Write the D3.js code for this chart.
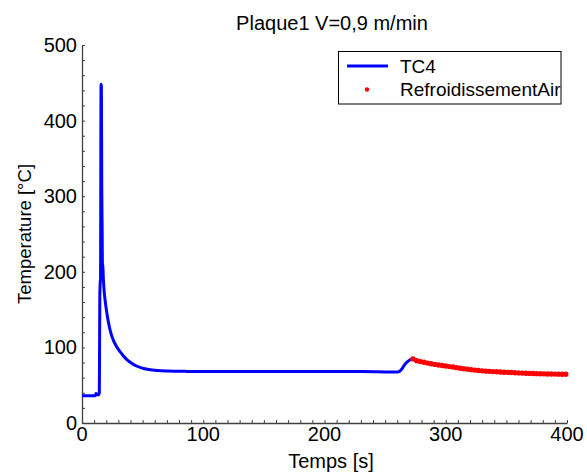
<!DOCTYPE html>
<html>
<head>
<meta charset="utf-8">
<script src="https://cdn.jsdelivr.net/npm/d3@7"></script>
<style>
  html, body { margin: 0; padding: 0; background: #fff; }
  svg { display: block; }
  text { font-family: "Liberation Sans", Arial, Helvetica, sans-serif; fill: #000; }
</style>
</head>
<body>
<svg id="chart" width="587" height="475"></svg>
<script>
// ---- Data ----
const chartTitle = "Plaque1 V=0,9 m/min";
const xLabel = "Temps [s]";
const yLabel = "Temperature [°C]";
const seriesNames = ["TC4", "RefroidissementAir"];

const xTicks = [0, 100, 200, 300, 400];
const yTicks = [0, 100, 200, 300, 400, 500];

// TC4 (blue line)
const tc4Time = [0, 5, 11, 11.5, 12.5, 13.5, 14.3, 14.7, 15.0, 15.3, 15.7, 16.0, 16.3, 16.6, 16.9, 17.2, 17.5, 18, 19, 20, 21, 22, 23, 24, 25, 26, 27, 28, 30, 32, 34, 36, 38, 41, 44, 49, 55, 62, 71, 85, 100, 130, 160, 200, 230, 255, 260, 262, 264, 266, 268, 270, 272, 273];
const tc4Temp = [36, 36, 36, 39, 38, 37, 40, 170, 185, 192, 448, 445, 310, 260, 205, 210, 195, 180, 163, 151, 140.5, 131.5, 124, 118, 113, 109, 105.5, 102.5, 97.5, 93, 89, 85.5, 82.5, 79, 76, 73, 70.8, 69.5, 68.8, 68.3, 68, 68, 68, 68, 68, 67.5, 67.5, 68.5, 72, 77, 80.5, 83, 84.5, 85];

// RefroidissementAir (red points)
const airTime = [273, 276, 279, 282, 285, 288, 291, 294, 297, 300, 303, 306, 309, 312, 315, 318, 321, 324, 327, 330, 333, 336, 339, 342, 345, 348, 351, 354, 357, 360, 363, 366, 369, 372, 375, 378, 381, 384, 387, 390, 393, 396, 399];
const airTemp = [84.8, 82.5, 81.2, 80.3, 79.2, 78.4, 77.5, 76.8, 76.0, 75.4, 74.6, 74.0, 73.2, 72.5, 71.8, 71.2, 70.6, 70.0, 69.4, 69.0, 68.6, 68.3, 68.0, 67.7, 67.4, 67.2, 67.0, 66.7, 66.5, 66.3, 66.0, 65.8, 65.6, 65.5, 65.3, 65.1, 65.0, 64.9, 64.8, 64.7, 64.6, 64.5, 64.4];

// ---- Layout ----
const svg = d3.select("#chart");
const plotL = 82, plotR = 567, plotT = 45, plotB = 423;
const x = d3.scaleLinear().domain([0, 400]).range([plotL, plotR]);
const y = d3.scaleLinear().domain([0, 500]).range([plotB, plotT]);
const axisColor = "#404040";
const FONT = 20;

// Axes (left & bottom only, inward ticks)
const xAxis = d3.axisBottom(x).tickValues(d3.range(0, 401, 10)).tickSizeInner(-3).tickSizeOuter(0).tickFormat("");
const yAxis = d3.axisLeft(y).tickValues(d3.range(0, 501, 20)).tickSizeInner(-3).tickSizeOuter(0).tickFormat("");

const gx = svg.append("g").attr("transform", `translate(0,${plotB})`).call(xAxis);
const gy = svg.append("g").attr("transform", `translate(${plotL},0)`).call(yAxis);
[gx, gy].forEach(g => {
  g.selectAll("path.domain").attr("stroke", axisColor).attr("stroke-width", 1.3);
  g.selectAll(".tick line").attr("stroke", axisColor).attr("stroke-width", 1);
});

// Tick labels
svg.append("g").selectAll("text").data(xTicks).join("text")
  .attr("x", d => x(d)).attr("y", 441)
  .attr("text-anchor", "middle").attr("font-size", FONT)
  .text(d => d);
svg.append("g").selectAll("text").data(yTicks).join("text")
  .attr("x", 77).attr("y", d => y(d) + 7)
  .attr("text-anchor", "end").attr("font-size", FONT)
  .text(d => d);

// Axis labels and title
svg.append("text").attr("x", 331).attr("y", 468).attr("text-anchor", "middle")
  .attr("font-size", FONT).text(xLabel);
svg.append("text").attr("transform", "translate(31,234) rotate(-90)").attr("text-anchor", "middle")
  .attr("font-size", 18.5).text(yLabel);
svg.append("text").attr("x", 332).attr("y", 30).attr("text-anchor", "middle")
  .attr("font-size", FONT).text(chartTitle);

// Series
const tc4 = tc4Time.map((t, i) => [t, tc4Temp[i]]);
const air = airTime.map((t, i) => [t, airTemp[i]]);

const line = d3.line().x(d => x(d[0])).y(d => y(d[1])).curve(d3.curveMonotoneX);
svg.append("path").datum(tc4).attr("d", line)
  .attr("fill", "none").attr("stroke", "#0000ff").attr("stroke-width", 3)
  .attr("stroke-linejoin", "round");

svg.append("g").selectAll("circle").data(air).join("circle")
  .attr("cx", d => x(d[0])).attr("cy", d => y(d[1])).attr("r", 2.7)
  .attr("fill", "#ff0000");

// Legend
const lg = svg.append("g");
lg.append("line").attr("x1", 347).attr("x2", 388).attr("y1", 66).attr("y2", 66)
  .attr("stroke", "#0000ff").attr("stroke-width", 3);
lg.append("circle").attr("cx", 367).attr("cy", 89.5).attr("r", 2.2).attr("fill", "#ff0000");
lg.append("text").attr("x", 400).attr("y", 72.5).attr("font-size", 19).text(seriesNames[0]);
lg.append("text").attr("x", 400).attr("y", 95.5).attr("font-size", 19).text(seriesNames[1]);
lg.append("rect").attr("x", 338.5).attr("y", 51.5).attr("width", 222.5).attr("height", 52.5)
  .attr("fill", "none").attr("stroke", "#000").attr("stroke-width", 1);
</script>
</body>
</html>
